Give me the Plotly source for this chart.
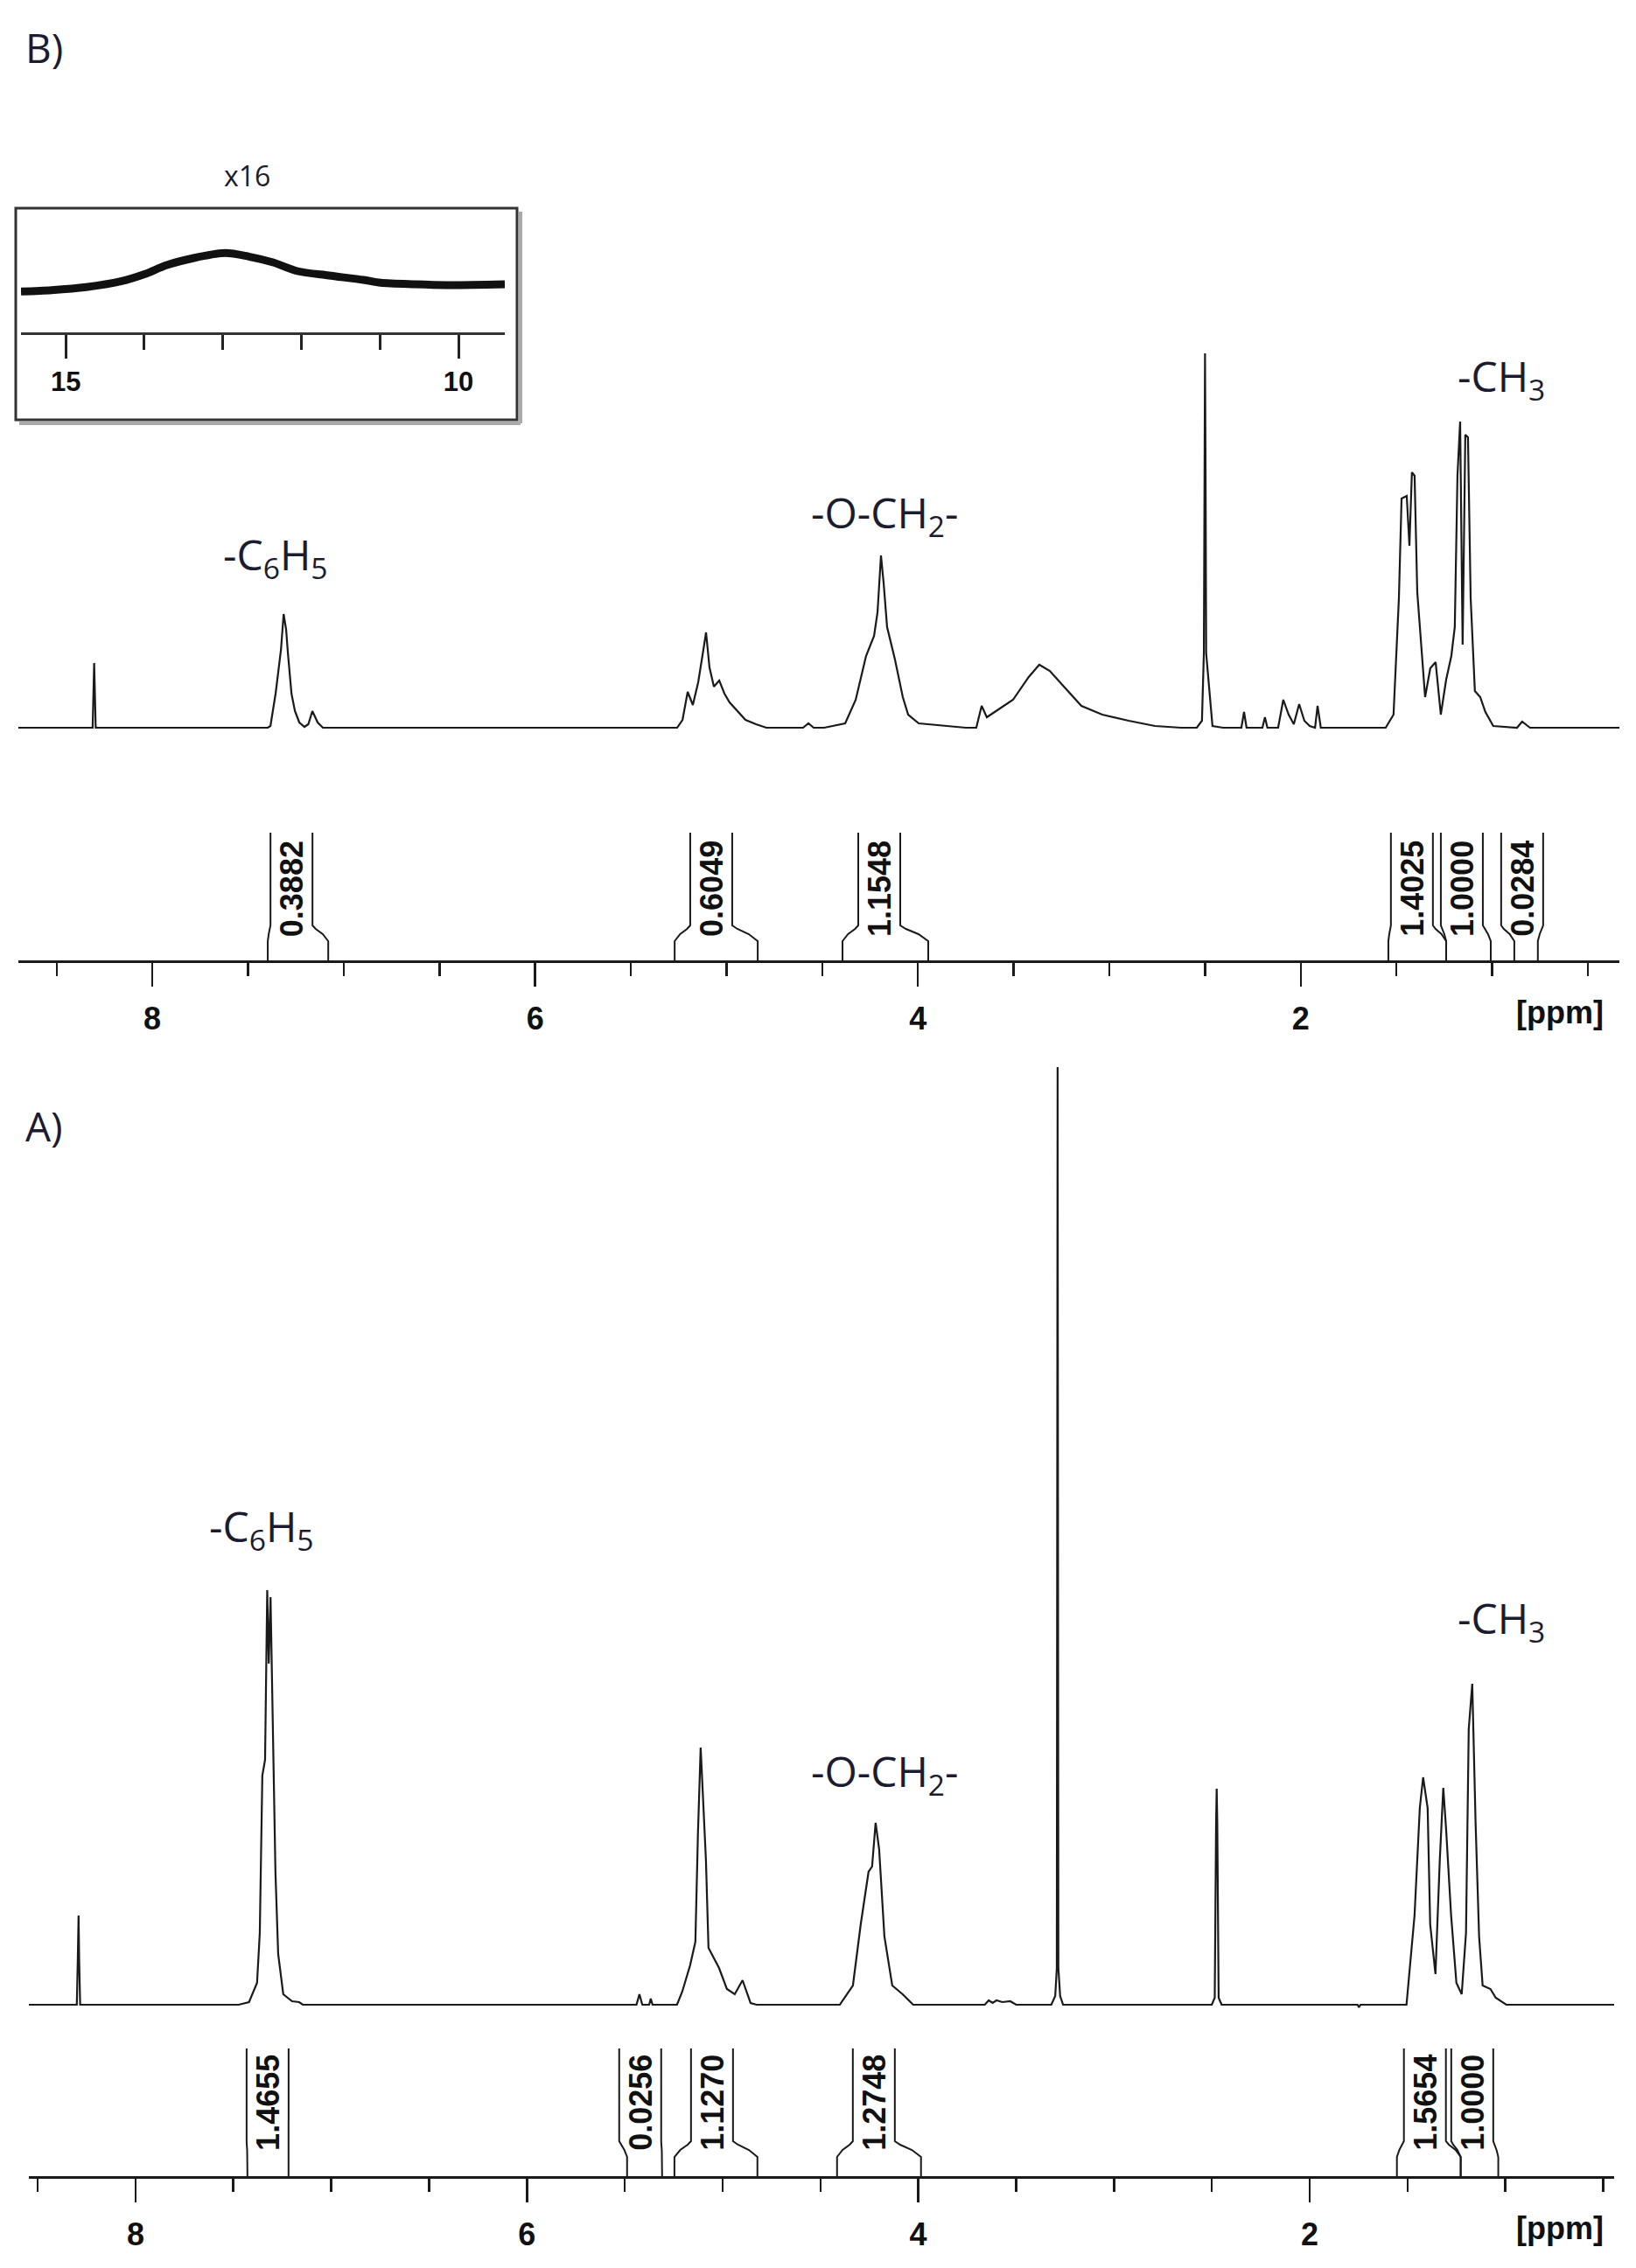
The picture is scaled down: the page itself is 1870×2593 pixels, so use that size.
import plotly.graph_objects as go

W, H = 1870, 2593

# ---------------- data ----------------
# Spectrum B (top panel): chemical shift (ppm) / intensity (a.u.)
b_ppm = [8.700,
         8.312, 8.304, 8.296,
         7.397, 7.383, 7.356, 7.328, 7.314, 7.301, 7.292, 7.273, 7.255, 7.232, 7.205, 7.185, 7.164, 7.136, 7.109,
         5.258, 5.230, 5.203, 5.176, 5.148, 5.121, 5.107, 5.089, 5.066, 5.038, 5.011, 4.984, 4.942, 4.901, 4.846, 4.792,
         4.600, 4.572, 4.545,
         4.490, 4.380, 4.325, 4.271, 4.229, 4.211, 4.193, 4.179, 4.161, 4.120, 4.079, 4.051, 3.996, 3.750,
         3.695, 3.667, 3.640, 3.503, 3.421, 3.366, 3.311, 3.229, 3.146, 3.037, 2.899, 2.762, 2.625,
         2.543, 2.516, 2.506, 2.503, 2.500, 2.497, 2.494, 2.461, 2.406,
         2.310, 2.296, 2.283, 2.200, 2.187, 2.174, 2.118, 2.091, 2.063, 2.036, 2.008, 1.981, 1.953, 1.925, 1.912, 1.895,
         1.556, 1.515, 1.487, 1.473, 1.446, 1.432, 1.419, 1.405, 1.391, 1.364, 1.350, 1.323, 1.295, 1.268, 1.240,
         1.213, 1.195, 1.181, 1.167, 1.154, 1.140, 1.126, 1.112, 1.090, 1.062, 1.035, 0.994, 0.870, 0.843, 0.802,
         0.335]
b_int = [0,
         0, 74, 0,
         0, 2, 39, 89, 130, 112, 86, 39, 19, 6, 1, 4, 19, 6, 0,
         0, 9, 41, 26, 52, 89, 109, 69, 47, 54, 39, 29, 19, 9, 4, 0,
         0, 5, 0,
         0, 5, 32, 82, 105, 132, 197, 165, 115, 78, 35, 15, 5, 0,
         0, 25, 12, 32, 58, 72, 65, 45, 25, 15, 8, 2, 0,
         0, 8, 85, 288, 428, 288, 85, 2, 0,
         0, 18, 0, 0, 12, 0, 0, 32, 15, 4, 27, 8, 2, 0, 25, 0,
         0, 15, 148, 262, 265, 208, 292, 288, 155, 72, 35, 68, 75, 15, 55,
         82, 115, 288, 350, 95, 335, 332, 148, 42, 35, 18, 2, 0, 7, 0,
         0]

# Spectrum A (bottom panel)
a_ppm = [8.545,
         8.300, 8.295, 8.291, 8.288, 8.283,
         7.473, 7.420, 7.379, 7.365, 7.352, 7.338, 7.327, 7.319, 7.310, 7.297, 7.292, 7.285, 7.271, 7.245, 7.200, 7.164, 7.145,
         5.440, 5.425, 5.410, 5.375, 5.367, 5.358,
         5.233, 5.206, 5.166, 5.139, 5.126, 5.112, 5.099, 5.085, 5.072, 5.018, 4.978, 4.938, 4.898, 4.871, 4.857, 4.826,
         4.401, 4.334, 4.294, 4.254, 4.236, 4.218, 4.200, 4.173, 4.133, 4.080, 4.026,
         3.660, 3.640, 3.620, 3.600, 3.570, 3.530, 3.500,
         3.320, 3.300, 3.292, 3.288, 3.284, 3.275, 3.260,
         2.500, 2.485, 2.478, 2.475, 2.472, 2.465, 2.450,
         1.755, 1.748, 1.740,
         1.505, 1.464, 1.437, 1.420, 1.397, 1.384, 1.357, 1.335, 1.317, 1.303, 1.277, 1.250, 1.223, 1.201, 1.187,
         1.169, 1.152, 1.134, 1.116, 1.076, 1.049, 0.995,
         0.444]
a_int = [0,
         0, 52, 102, 52, 0,
         0, 3, 25, 82, 262, 280, 474, 390, 466, 300, 272, 152, 58, 12, 4, 3, 0,
         0, 12, 0, 0, 7, 0,
         0, 15, 45, 72, 195, 294, 230, 165, 65, 42, 18, 12, 28, 10, 2, 0,
         0, 22, 92, 152, 158, 208, 178, 78, 22, 12, 0,
         0, 5, 2, 5, 3, 4, 0,
         0, 10, 42, 1072, 42, 10, 0,
         0, 8, 208, 247, 208, 8, 0,
         0, -3, 0,
         0, 102, 225, 260, 225, 92, 35, 165, 248, 202, 102, 25, 12, 82, 315,
         367, 208, 78, 22, 18, 8, 0,
         0]

# Inset (x16) of spectrum B, 15.6-9.4 ppm
inset_ppm = [15.57, 15.18, 14.74, 14.30, 13.99, 13.72, 13.37, 12.97, 12.67, 12.36, 12.05, 11.65, 11.21, 10.99, 10.55, 10.11, 9.41]
inset_int = [46.7, 48.3, 51.7, 58.3, 66.7, 76.7, 85.0, 90.7, 86.7, 80.0, 70.0, 65.0, 60.0, 56.7, 55.0, 54.0, 55.0]

# Integrals B: limits (ppm), label centre (ppm), value
b_ig_start = [7.397, 5.271, 4.394, 1.542, 1.240, 0.884]
b_ig_end = [7.081, 4.837, 3.946, 1.240, 1.007, 0.761]
b_ig_center = [7.273, 5.080, 4.202, 1.419, 1.158, 0.843]
b_ig_value = ["0.3882", "0.6049", "1.1548", "1.4025", "1.0000", "0.0284"]

# Integrals A
a_ig_start = [7.428, 5.488, 5.246, 4.415, 1.554, 1.228]
a_ig_end = [7.218, 5.309, 4.822, 3.986, 1.228, 1.036]
a_ig_center = [7.325, 5.421, 5.054, 4.227, 1.411, 1.169]
a_ig_value = ["1.4655", "0.0256", "1.1270", "1.2748", "1.5654", "1.0000"]

tick_vals = [8, 6, 4, 2]
tick_text = ["8", "6", "4", "2"]
inset_tick_vals = [15, 10]
inset_tick_text = ["15", "10"]

# ---------------- style / layout ----------------
INK = "#1a1a1a"
LABEL_INK = "#1c1c30"


def px(xp):
    return xp / W


def py(yp):
    return 1 - yp / H


def bracket_path(starts, ends, centers, off, top=146):
    xs, ys = [], []
    for s, e, c in zip(starts, ends, centers):
        inl, inr = c + off, c - off
        for leg, inn in ((s, inl), (e, inr)):
            seg_x = [leg, leg, leg + 0.35 * (inn - leg), leg + 0.8 * (inn - leg), inn, inn]
            seg_y = [0, 22, 30, 36, 40, top]
            xs += seg_x + [None]
            ys += seg_y + [None]
    return xs, ys


B_XDOM = (21, 1851)
B_XRANGE = [8.70, 0.335]
A_XDOM = (33, 1845)
A_XRANGE = [8.545, 0.444]
BR_HALF_PX = 24
offB = BR_HALF_PX * (B_XRANGE[0] - B_XRANGE[1]) / (B_XDOM[1] - B_XDOM[0])
offA = BR_HALF_PX * (A_XRANGE[0] - A_XRANGE[1]) / (A_XDOM[1] - A_XDOM[0])

fig = go.Figure()

fig.add_trace(go.Scatter(x=b_ppm, y=b_int, xaxis="x", yaxis="y", mode="lines",
                         line=dict(color=INK, width=2.2), hoverinfo="skip", showlegend=False))
bx, by = bracket_path(b_ig_start, b_ig_end, b_ig_center, offB)
fig.add_trace(go.Scatter(x=bx, y=by, xaxis="x", yaxis="y2", mode="lines",
                         line=dict(color=INK, width=2), hoverinfo="skip", showlegend=False))

fig.add_trace(go.Scatter(x=a_ppm, y=a_int, xaxis="x2", yaxis="y3", mode="lines",
                         line=dict(color=INK, width=2.2), hoverinfo="skip", showlegend=False))
ax_, ay_ = bracket_path(a_ig_start, a_ig_end, a_ig_center, offA)
fig.add_trace(go.Scatter(x=ax_, y=ay_, xaxis="x2", yaxis="y4", mode="lines",
                         line=dict(color=INK, width=2), hoverinfo="skip", showlegend=False))

fig.add_trace(go.Scatter(x=inset_ppm, y=inset_int, xaxis="x3", yaxis="y5", mode="lines",
                         line=dict(color="#111", width=9, shape="spline", smoothing=0.8),
                         hoverinfo="skip", showlegend=False))

tickfont = dict(family="Liberation Sans, Arial", size=36, color="#111", weight="bold")
minor = dict(tickmode="linear", tick0=0, dtick=0.5, ticks="outside", ticklen=15, tickwidth=2.5, tickcolor=INK)


def main_xaxis(dom, rng, anchor):
    return dict(domain=[px(dom[0]), px(dom[1])], range=rng, anchor=anchor,
                showline=True, linecolor=INK, linewidth=2.5,
                ticks="outside", ticklen=27, tickwidth=2.5, tickcolor=INK,
                tickmode="array", tickvals=tick_vals, ticktext=tick_text,
                tickfont=tickfont, ticklabelstandoff=6, minor=minor,
                showgrid=False, zeroline=False, fixedrange=True)


hidden = dict(visible=False, showgrid=False, zeroline=False, fixedrange=True)

fig.update_layout(
    width=W, height=H, autosize=False,
    margin=dict(l=0, r=0, t=0, b=0),
    paper_bgcolor="white", plot_bgcolor="rgba(0,0,0,0)",
    showlegend=False,
    xaxis=main_xaxis(B_XDOM, B_XRANGE, "y2"),
    yaxis=dict(domain=[py(842), py(392)], range=[-10, 440], anchor="x", **hidden),
    yaxis2=dict(domain=[py(1098), py(948)], range=[0, 150], anchor="x", **hidden),
    xaxis2=main_xaxis(A_XDOM, A_XRANGE, "y4"),
    yaxis3=dict(domain=[py(2302), py(1212)], range=[-10, 1080], anchor="x2", **hidden),
    yaxis4=dict(domain=[py(2488), py(2338)], range=[0, 150], anchor="x2", **hidden),
    xaxis3=dict(domain=[px(24), px(577)], range=[15.57, 9.41], anchor="y5",
                showline=True, linecolor="#333", linewidth=3,
                ticks="outside", ticklen=27, tickwidth=3, tickcolor="#222",
                tickmode="array", tickvals=inset_tick_vals, ticktext=inset_tick_text,
                tickfont=dict(family="Liberation Sans, Arial", size=31, color="#111", weight="bold"),
                ticklabelstandoff=0,
                minor=dict(tickmode="linear", tick0=0, dtick=1, ticks="outside", ticklen=17,
                           tickwidth=3, tickcolor="#222"),
                showgrid=False, zeroline=False, fixedrange=True),
    yaxis5=dict(domain=[py(380), py(245)], range=[0, 135], anchor="x3", **hidden),
)

# inset frame
fig.add_shape(type="line", xref="paper", yref="paper", x0=px(22), x1=px(595), y0=py(484), y1=py(484),
              line=dict(color="#aaaaaa", width=4))
fig.add_shape(type="line", xref="paper", yref="paper", x0=px(595), x1=px(595), y0=py(242), y1=py(484),
              line=dict(color="#aaaaaa", width=4))
fig.add_shape(type="rect", xref="paper", yref="paper", x0=px(18), x1=px(591), y0=py(480), y1=py(238),
              line=dict(color="#333", width=3))

annotations = []


def ann(text, x, y, size, family="Open Sans", color=LABEL_INK, **kw):
    annotations.append(dict(text=text, x=px(x), y=py(y), xref="paper", yref="paper",
                            showarrow=False, xanchor="center", yanchor="middle",
                            font=dict(family=family, size=size, color=color), **kw))


ann("B)", 50, 54, 46)
ann("A)", 50, 1287, 46)
ann("x16", 282, 200, 32)
ann("-C<sub>6</sub>H<sub>5</sub>", 314, 636, 48)
ann("-O-CH<sub>2</sub>-", 1012, 588, 48)
ann("-CH<sub>3</sub>", 1716, 432, 48)
ann("-C<sub>6</sub>H<sub>5</sub>", 298, 1747, 48)
ann("-O-CH<sub>2</sub>-", 1012, 2027, 48)
ann("-CH<sub>3</sub>", 1716, 1852, 48)
ann("<b>[ppm]</b>", 1783, 1157, 36, family="Liberation Sans, Arial", color="#111")
ann("<b>[ppm]</b>", 1783, 2547, 36, family="Liberation Sans, Arial", color="#111")

for c, v in zip(b_ig_center, b_ig_value):
    annotations.append(dict(text=v, x=c, y=82, xref="x", yref="y2", showarrow=False,
                            textangle=-90, xanchor="center", yanchor="middle",
                            font=dict(family="Liberation Sans, Arial", size=36, color="#111", weight="bold")))
for c, v in zip(a_ig_center, a_ig_value):
    annotations.append(dict(text=v, x=c, y=84, xref="x2", yref="y4", showarrow=False,
                            textangle=-90, xanchor="center", yanchor="middle",
                            font=dict(family="Liberation Sans, Arial", size=36, color="#111", weight="bold")))

fig.update_layout(annotations=annotations)

fig.write_html(
    "out.html",
    config={"displayModeBar": False, "staticPlot": True},
    post_script="document.body.style.margin='0';document.body.style.padding='0';"
                "document.documentElement.style.overflow='hidden';",
)
